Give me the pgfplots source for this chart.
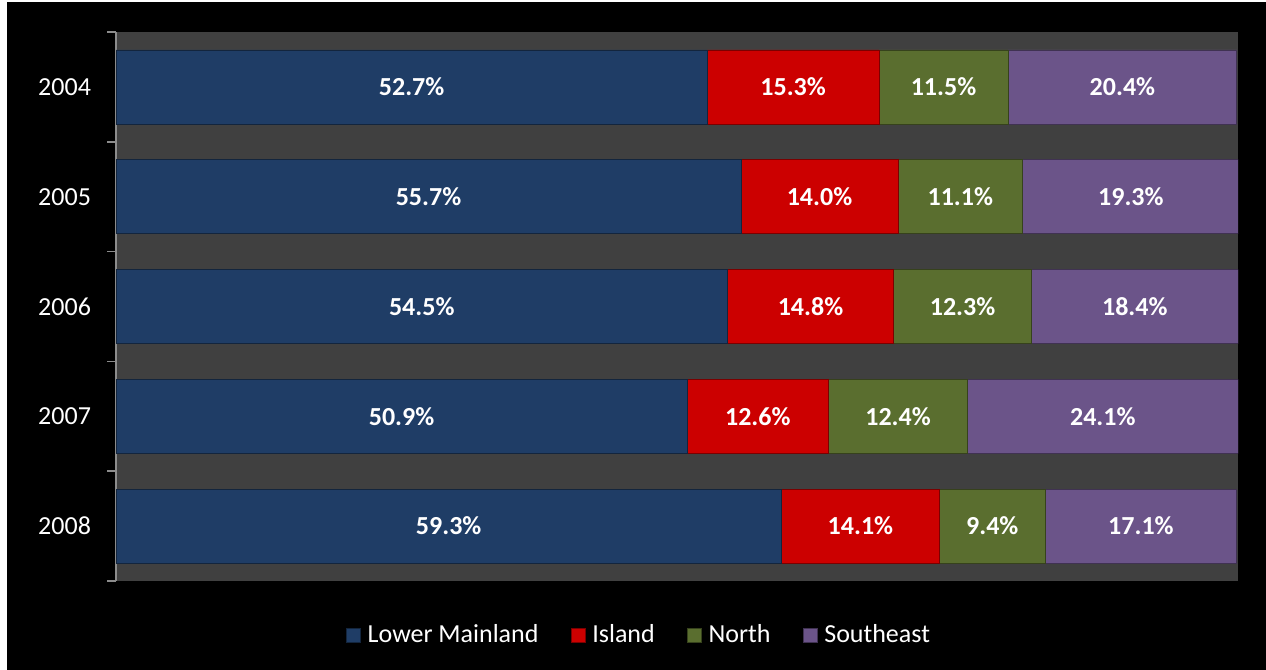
\documentclass[border=0pt]{standalone}
\usepackage{fontspec}
\setmainfont{Carlito}
\usepackage{pgfplots}
\pgfplotsset{compat=1.18}
\definecolor{cLM}{HTML}{1F3D66}
\definecolor{cIS}{HTML}{CC0000}
\definecolor{cNO}{HTML}{5A6E2F}
\definecolor{cSE}{HTML}{6B5489}
\definecolor{bgp}{HTML}{404040}
\definecolor{axg}{HTML}{8C8C8C}
\begin{document}
\begin{tikzpicture}
\fill[white] (0,0) rectangle (633pt,335pt);
\fill[black] (3.5pt,0) rectangle (633pt,334pt);
\useasboundingbox (0,0) rectangle (633pt,335pt);
\begin{axis}[
  at={(58pt,44.5pt)}, anchor=south west,
  scale only axis, width=561pt, height=274.5pt,
  xbar stacked, bar width=37pt,
  xmin=0, xmax=100, ymin=-0.5, ymax=4.5, y dir=reverse,
  axis x line=none, axis y line*=left,
  axis background/.style={fill=bgp},
  y axis line style={axg, line width=0.8pt},
  ytick={0,1,2,3,4}, yticklabels={2004,2005,2006,2007,2008},
  major tick length=0pt,
  yticklabel style={white, font=\fontsize{13}{15}\selectfont, xshift=-9pt},
  extra y ticks={-0.5,0.5,1.5,2.5,3.5,4.5}, extra y tick labels={},
  extra tick style={major tick length=4.5pt, tick align=outside, tick style={axg, line width=0.8pt}},
  legend columns=4,
  legend style={at={(0.467,0)}, anchor=center, yshift=-27pt, draw=none, fill=none,
    text=white, font=\fontsize{13}{15}\selectfont,
    /tikz/every even column/.append style={column sep=14pt}},
  legend image code/.code={\fill[#1] (0pt,-3.5pt) rectangle (7pt,3.5pt); \path (8.5pt,0pt);},
]
\addplot[fill=cLM, draw=cLM!60!black] coordinates {(52.7,0) (55.7,1) (54.5,2) (50.9,3) (59.3,4)};
\addplot[fill=cIS, draw=cIS!60!black] coordinates {(15.3,0) (14.0,1) (14.8,2) (12.6,3) (14.1,4)};
\addplot[fill=cNO, draw=cNO!60!black] coordinates {(11.5,0) (11.1,1) (12.3,2) (12.4,3) (9.4,4)};
\addplot[fill=cSE, draw=cSE!60!black] coordinates {(20.4,0) (19.3,1) (18.4,2) (24.1,3) (17.1,4)};
\legend{Lower Mainland, Island, North, Southeast}
\end{axis}
\begin{axis}[
  at={(58pt,44.5pt)}, anchor=south west,
  scale only axis, width=561pt, height=274.5pt,
  xmin=0, xmax=100, ymin=-0.5, ymax=4.5, y dir=reverse,
  hide axis,
]
\addplot[draw=none, mark=none, nodes near coords={\pgfmathprintnumber[fixed,fixed zerofill,precision=1,assume math mode=true]{\pgfplotspointmeta}\%},
  point meta=explicit,
  every node near coord/.style={anchor=center, text=white, font=\bfseries\fontsize{13}{15}\selectfont}]
  table[meta=v] {
x y v
26.35 0 52.7
60.35 0 15.3
73.75 0 11.5
89.7 0 20.4
27.85 1 55.7
62.7 1 14.0
75.25 1 11.1
90.45 1 19.3
27.25 2 54.5
61.9 2 14.8
75.45 2 12.3
90.8 2 18.4
25.45 3 50.9
57.2 3 12.6
69.7 3 12.4
87.95 3 24.1
29.65 4 59.3
66.35 4 14.1
78.1 4 9.4
91.35 4 17.1
};
\end{axis}
\end{tikzpicture}
\end{document}
